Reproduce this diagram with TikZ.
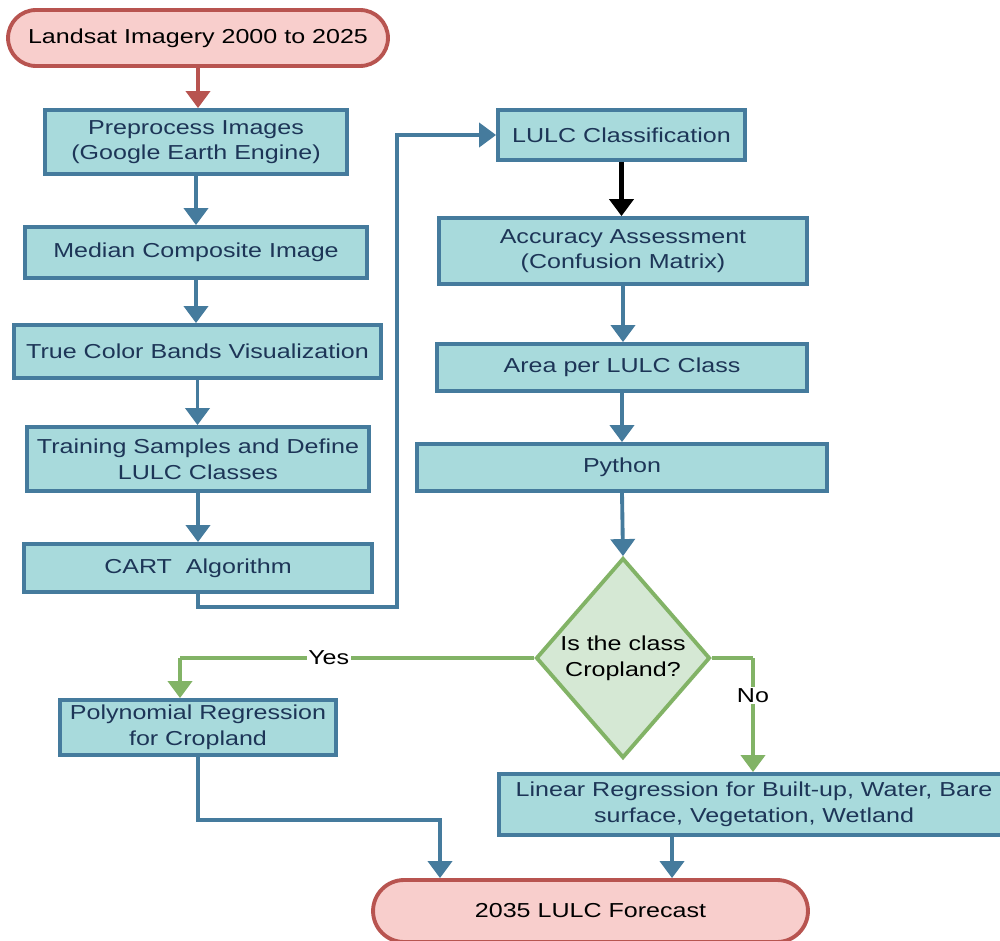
\documentclass[tikz,border=0pt]{standalone}
\usepackage{fontspec}
\setmainfont{Liberation Sans}[FakeStretch=1.24]
\usetikzlibrary{arrows.meta,shapes.geometric}
\definecolor{boxfill}{HTML}{A8DADC}
\definecolor{boxline}{HTML}{457B9D}
\definecolor{boxtext}{HTML}{1D3557}
\definecolor{termfill}{HTML}{F8CECC}
\definecolor{termline}{HTML}{B85450}
\definecolor{decfill}{HTML}{D5E8D4}
\definecolor{decline}{HTML}{82B366}
\tikzset{
  every node/.style={font=\fontsize{11.5}{14.6}\selectfont},
  procbox/.style={draw=boxline, fill=boxfill, text=boxtext, line width=2.2pt, align=center, inner sep=2pt},
  termbox/.style={draw=termline, fill=termfill, text=black, line width=2.2pt, align=center, inner sep=2pt},
  decbox/.style={diamond, draw=decline, fill=decfill, text=black, line width=2.2pt, align=center, inner sep=0pt, aspect=0.87},
  tip/.style={-{Triangle[width=0.48cm,length=0.34cm]}},
  bline/.style={draw=boxline, line width=2.2pt, tip},
  rline/.style={draw=termline, line width=2.2pt, tip},
  kline/.style={draw=black, line width=2.4pt, tip},
  gline/.style={draw=decline, line width=2.2pt},
  lbl/.style={fill=white, text=black, inner sep=1pt}
}
\begin{document}
\begin{tikzpicture}[x=0.02cm,y=-0.02cm]
\useasboundingbox (0,0) rectangle (1000,940);
\fill[white] (0,0) rectangle (1000,940);

\node[termbox, minimum width=7.6cm, minimum height=1.12cm, rounded corners=0.56cm] (start) at (198,38) {Landsat Imagery 2000 to 2025};
\node[procbox, minimum width=6.04cm, minimum height=1.28cm] (pre) at (196,142) {Preprocess Images\\(Google Earth Engine)};
\node[procbox, minimum width=6.84cm, minimum height=1.02cm] (med) at (196,252.5) {Median Composite Image};
\node[procbox, minimum width=7.34cm, minimum height=1.06cm] (tcb) at (197.5,351.5) {True Color Bands Visualization};
\node[procbox, minimum width=6.84cm, minimum height=1.28cm] (train) at (198,459) {Training Samples and Define\\LULC Classes};
\node[procbox, minimum width=6.96cm, minimum height=0.96cm] (cart) at (198,568) {CART\ \ Algorithm};

\node[procbox, minimum width=4.94cm, minimum height=1.0cm] (lulc) at (621.5,135) {LULC Classification};
\node[procbox, minimum width=7.36cm, minimum height=1.32cm] (acc) at (623,251) {Accuracy Assessment\\(Confusion Matrix)};
\node[procbox, minimum width=7.4cm, minimum height=0.94cm] (area) at (622,367.5) {Area per LULC Class};
\node[procbox, minimum width=8.2cm, minimum height=0.94cm] (py) at (622,467.5) {Python};
\node[decbox, minimum width=3.48cm, minimum height=4cm] (dia) at (623,658) {Is the class\\Cropland?};

\node[procbox, minimum width=5.52cm, minimum height=1.1cm] (poly) at (198,727.5) {Polynomial Regression\\for Cropland};
\node[procbox, minimum width=10.2cm, minimum height=1.22cm] (lin) at (754,804.5) {Linear Regression for Built-up, Water, Bare\\surface, Vegetation, Wetland};
\node[termbox, minimum width=8.7cm, minimum height=1.24cm, rounded corners=0.62cm] (fore) at (590.5,911) {2035 LULC Forecast};

% connectors
\draw[rline] (start.south) -- (start.south |- pre.north);
\draw[bline] (pre.south) -- (pre.south |- med.north);
\draw[bline] (med.south) -- (med.south |- tcb.north);
\draw[bline] (tcb.south) -- (tcb.south |- train.north);
\draw[bline] (train.south) -- (train.south |- cart.north);

\coordinate (c1) at (198,607);
\coordinate (c2) at (397,607);
\draw[bline] (cart.south) -- (c1) -- (c2) |- (lulc.west);

\draw[kline] (lulc.south) -- (lulc.south |- acc.north);
\draw[bline] (acc.south) -- (acc.south |- area.north);
\draw[bline] (area.south) -- (area.south |- py.north);
\draw[bline] (py.south) -- (dia.north);

\coordinate (yc) at (180,656);
\draw[gline] (dia.west) -- node[lbl, pos=0.58] {Yes} (dia.west -| yc);
\draw[gline, tip] (dia.west -| yc) -- (yc |- poly.north);

\coordinate (nc) at (753,656);
\draw[gline] (dia.east) -- (dia.east -| nc);
\draw[gline, tip] (dia.east -| nc) -- node[lbl, pos=0.33] {No} (nc |- lin.north);

\coordinate (p1) at (440,820);
\draw[bline] (poly.south) |- (p1) -- (p1 |- fore.north);

\draw[bline] ([xshift=-1.64cm]lin.south) coordinate (ls) -- (ls |- fore.north);
\end{tikzpicture}
\end{document}
